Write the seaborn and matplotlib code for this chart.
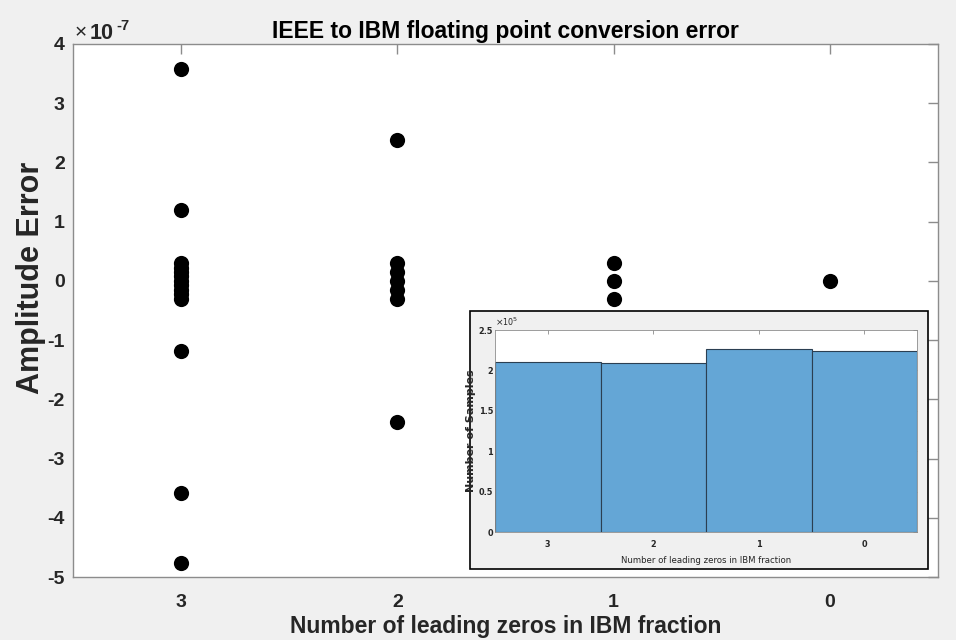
import numpy as np
import pandas as pd
import matplotlib
matplotlib.use("Agg")
import matplotlib.pyplot as plt
from matplotlib.patches import Rectangle
from matplotlib.ticker import FuncFormatter
from matplotlib import font_manager
from matplotlib.font_manager import FontProperties
import seaborn as sns

# Conversion error observed for each count of leading zeros in the IBM fraction
zeros_3 = [3.58e-7, 1.19e-7, 2.98e-8, 2.24e-8, 1.49e-8, 7.45e-9, 0.0,
           -7.45e-9, -1.49e-8, -2.24e-8, -2.98e-8, -1.19e-7, -3.58e-7, -4.77e-7]
zeros_2 = [2.38e-7, 2.98e-8, 1.49e-8, 0.0, -1.49e-8, -2.98e-8, -2.38e-7]
zeros_1 = [2.98e-8, 0.0, -2.98e-8]
zeros_0 = [0.0]
leading_zeros = [3, 2, 1, 0]

# Number of samples in each leading-zero bin
sample_counts = [2.107e5, 2.087e5, 2.264e5, 2.244e5]

sns.set_theme(style="white")
plt.rcParams["font.family"] = ["Liberation Sans", "DejaVu Sans"]
plt.rcParams["axes.unicode_minus"] = False


def narrow_font(size, bold=False):
    """Pick a condensed sans face for the small histogram labels, if one exists."""
    cands = [f for f in font_manager.fontManager.ttflist
             if ("Narrow" in f.name or "Condensed" in f.name
                 or str(f.stretch) in ("condensed", "semi-condensed", "extra-condensed"))]
    want = 700 if bold else 400
    cands.sort(key=lambda f: (abs((f.weight if isinstance(f.weight, int) else 400) - want),
                              f.style != "normal"))
    if cands:
        return FontProperties(fname=cands[0].fname, size=size)
    return FontProperties(family="Liberation Sans", size=size * 0.8,
                          weight="bold" if bold else "normal")


err_df = pd.DataFrame({
    "zeros": [3] * len(zeros_3) + [2] * len(zeros_2) + [1] * len(zeros_1) + [0] * len(zeros_0),
    "error": zeros_3 + zeros_2 + zeros_1 + zeros_0,
})
hist_df = pd.DataFrame({"zeros": leading_zeros, "count": sample_counts})

fig = plt.figure(figsize=(9.56, 6.4), dpi=100)
fig.patch.set_facecolor("#f0f0f0")

axis_grey = "#8c8c8c"
text_dark = "#262626"

ax = fig.add_axes([73 / 956, 1 - 577 / 640, (938 - 73) / 956, (577 - 44) / 640])
ax.set_facecolor("white")
sns.scatterplot(data=err_df, x="zeros", y="error", ax=ax, color="black",
                s=120, edgecolor="black", linewidth=0, legend=False)
ax.set_xlim(3.5, -0.5)
ax.set_ylim(-5e-7, 4e-7)
ax.set_xticks(leading_zeros)
ax.set_xticklabels([str(v) for v in leading_zeros])
ax.set_yticks(np.arange(-5, 5) * 1e-7)
ax.yaxis.set_major_formatter(FuncFormatter(lambda v, p: f"{v / 1e-7:g}"))

# Exponent marker above the y axis
fig.text(75 / 956, 1 - 38 / 640, "\u00d7", fontsize=15, color=text_dark,
         ha="left", va="baseline")
fig.text(90 / 956, 1 - 39 / 640, "10", fontsize=15.5, fontweight="bold",
         color=text_dark, ha="left", va="baseline")
fig.text(116 / 956, 1 - 30 / 640, "-7", fontsize=10.5, fontweight="bold",
         color=text_dark, ha="left", va="baseline")

ax.tick_params(direction="in", length=7, width=1, color=axis_grey,
               top=True, right=True, labelsize=14, labelcolor=text_dark)
ax.tick_params(axis="x", pad=12)
ax.tick_params(axis="y", pad=6)
for lbl in ax.get_xticklabels() + ax.get_yticklabels():
    lbl.set_fontweight("bold")
for sp in ax.spines.values():
    sp.set_color(axis_grey)
    sp.set_linewidth(1.0)
ax.set_xlabel("Number of leading zeros in IBM fraction", fontsize=16.5,
              fontweight="bold", color=text_dark, labelpad=3)
ax.set_ylabel("Amplitude Error", fontsize=22, fontweight="bold",
              color=text_dark)
ax.yaxis.set_label_coords(-0.031, 0.561)
ax.set_title("IEEE to IBM floating point conversion error", fontsize=16.5,
             fontweight="bold", color="black", pad=4)

# Inset panel holding the histogram of samples
panel = Rectangle((470 / 956, 1 - 569 / 640), (928 - 470) / 956, (569 - 311) / 640,
                  transform=fig.transFigure, facecolor="#f0f0f0",
                  edgecolor="black", linewidth=1.2, zorder=3)
fig.patches.append(panel)

iax = fig.add_axes([495 / 956, 1 - 532 / 640, (917 - 495) / 956, (532 - 330) / 640])
iax.set_zorder(4)
iax.set_facecolor("white")
sns.barplot(data=hist_df, x="zeros", y="count", order=leading_zeros, ax=iax,
            color="#64a6d6", saturation=1, width=1.0, edgecolor="#2b3f52",
            linewidth=0.8)
iax.set_xlim(-0.5, 3.5)
iax.set_ylim(0, 2.5e5)
iax.set_yticks(np.arange(0, 2.51e5, 0.5e5))
iax.yaxis.set_major_formatter(FuncFormatter(lambda v, p: f"{v / 1e5:g}"))
iax.text(0.0, 1.01, r"$\times$10$^{5}$", transform=iax.transAxes,
         fontproperties=narrow_font(6.5), color=text_dark, ha="left", va="bottom")
iax.tick_params(direction="in", length=3, width=0.6, color=axis_grey,
                top=True, right=True, labelcolor=text_dark)
iax.tick_params(axis="x", pad=6)
iax.tick_params(axis="y", pad=1.5)
tick_fp = narrow_font(6.5, bold=True)
for lbl in iax.get_xticklabels() + iax.get_yticklabels():
    lbl.set_fontproperties(tick_fp)
for sp in iax.spines.values():
    sp.set_color(axis_grey)
    sp.set_linewidth(0.6)
iax.set_xlabel("Number of leading zeros in IBM fraction",
               fontproperties=narrow_font(6.8), color=text_dark, labelpad=5)
iax.set_ylabel("Number of Samples", fontsize=8, fontweight="bold",
               color=text_dark, family="DejaVu Sans")
iax.yaxis.set_label_coords(-0.046, 0.5)

fig.savefig("out.png", dpi=100, facecolor=fig.get_facecolor())
